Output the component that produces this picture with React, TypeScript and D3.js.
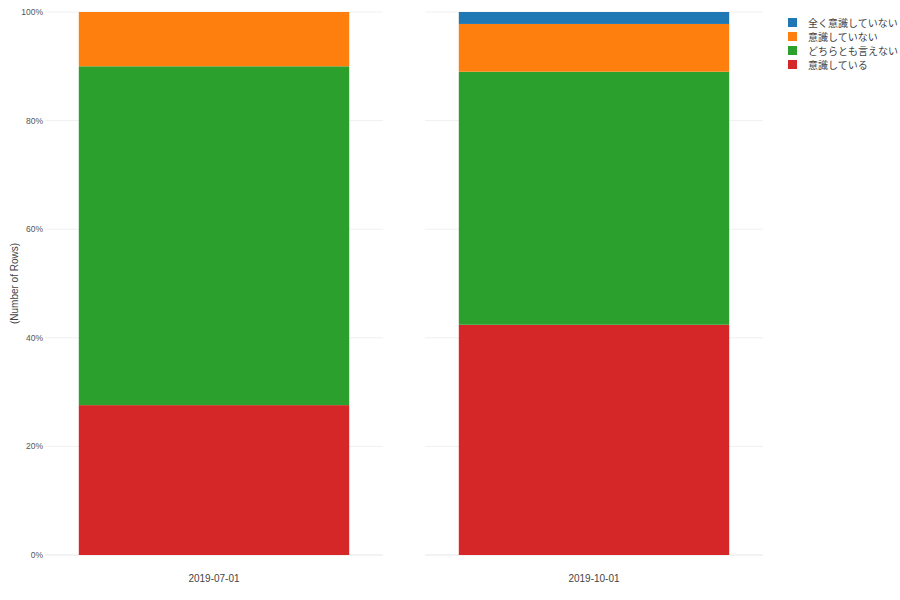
import React from "react";
import * as d3 from "d3";

const dates = ["2019-07-01", "2019-10-01"];
const seriesNames = ["意識している", "どちらとも言えない", "意識していない", "全く意識していない"];
const seriesColors = ["#d62728", "#2ca02c", "#ff7f0e", "#1f77b4"];
// shares (fraction of rows) per date, in seriesNames order
const shareJul = [0.276, 0.624, 0.1, 0.0];
const shareOct = [0.424, 0.466, 0.088, 0.022];
const yTicks = [0, 0.2, 0.4, 0.6, 0.8, 1.0];
const legendOrder = ["全く意識していない", "意識していない", "どちらとも言えない", "意識している"];

const W = 900;
const H = 600;
const panelXs = [45, 425];
const panelW = 338;
const top = 12;
const bottom = 555;
const font = "'Liberation Sans', Arial, sans-serif";

export default function App() {
  const y = d3.scaleLinear().domain([0, 1]).range([bottom, top]);
  const data = [shareJul, shareOct];
  const stackRows = dates.map((d, i) => {
    const row: any = { date: d };
    seriesNames.forEach((s, j) => (row[s] = data[i][j]));
    return row;
  });
  const stacked = d3.stack().keys(seriesNames)(stackRows as any);
  const color = d3.scaleOrdinal<string, string>().domain(seriesNames).range(seriesColors);
  const fmt = d3.format(".0%");

  return (
    <svg width={W} height={H} style={{ position: "absolute", left: 0, top: 0, background: "#fff" }}>
      {dates.map((d, i) => {
        const x = d3.scaleBand().domain([d]).range([panelXs[i], panelXs[i] + panelW]).paddingInner(0.2).paddingOuter(0.1);
        const bw = x.bandwidth();
        return (
          <g key={d}>
            {yTicks.map((t) => (
              <line key={t} x1={panelXs[i]} x2={panelXs[i] + panelW} y1={y(t)} y2={y(t)} stroke={t === 0 ? "#e6e6e6" : "#f0f0f0"} strokeWidth={1} />
            ))}
            {stacked.map((layer) => {
              const v = layer[i];
              if (v[1] - v[0] <= 0) return null;
              return (
                <rect key={layer.key} x={x(d)} width={bw} y={y(v[1])} height={y(v[0]) - y(v[1])} fill={color(layer.key)} />
              );
            })}
            <text x={x(d)! + bw / 2} y={582} textAnchor="middle" fontFamily={font} fontSize={10} fill="#444">
              {d}
            </text>
          </g>
        );
      })}
      {yTicks.map((t) => (
        <text key={t} x={43} y={y(t) + 3} textAnchor="end" fontFamily={font} fontSize={8.5} fill="#555">
          {fmt(t)}
        </text>
      ))}
      <text transform={`translate(18,${(top + bottom) / 2}) rotate(-90)`} textAnchor="middle" fontFamily={font} fontSize={10} fill="#444">
        (Number of Rows)
      </text>
      {legendOrder.map((s, i) => (
        <g key={s} transform={`translate(788,${18 + i * 14})`}>
          <rect width={9} height={9} fill={color(s)} />
          <text x={20} y={8.5} fontFamily="'Noto Sans CJK JP', sans-serif" fontSize={10} fill="#444">
            {s}
          </text>
        </g>
      ))}
    </svg>
  );
}
